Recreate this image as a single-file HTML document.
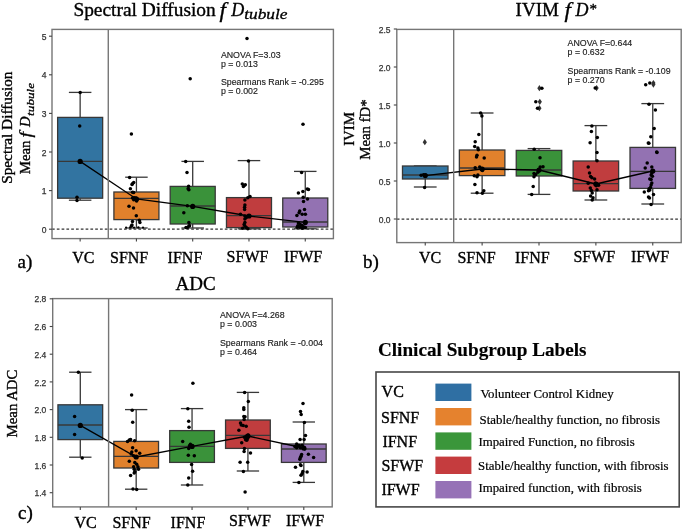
<!DOCTYPE html><html><head><meta charset="utf-8"><style>
*{margin:0;padding:0}
html,body{width:685px;height:530px;overflow:hidden;background:#fff}
svg{display:block;will-change:transform}
text{font-family:"Liberation Serif",serif;fill:#000;stroke:#000;stroke-width:0.35px}
.tk{font-family:"Liberation Sans",sans-serif;font-size:8.5px;fill:#333;stroke:#333;stroke-width:0.25px}
.an{font-family:"Liberation Sans",sans-serif;font-size:8.8px;fill:#222;stroke:#222;stroke-width:0.15px}
.ti{font-size:19px}
.it{font-style:italic;stroke-width:0.3px}
.sub{font-style:italic;font-size:13px}
.sub2{font-style:italic;font-size:11px}
.sup{font-size:13px}
.yl{font-size:14.8px}
.xl{font-size:16px}
.pl{font-size:19px}
.lt{font-size:19.2px;font-weight:bold;stroke-width:0.15px}
.ll{font-size:16px}
.ld{font-size:12.85px;stroke-width:0.2px}
</style></head><body><svg width="685" height="530" viewBox="0 0 685 530">
<rect width="685" height="530" fill="#fff"/>
<line x1="52.00" y1="229.20" x2="333.40" y2="229.20" stroke="#333" stroke-width="1.25" stroke-dasharray="2.7 2.1"/>
<line x1="80.14" y1="92.40" x2="80.14" y2="117.40" stroke="#383838" stroke-width="1.3"/>
<line x1="80.14" y1="198.20" x2="80.14" y2="200.20" stroke="#383838" stroke-width="1.3"/>
<line x1="68.88" y1="92.40" x2="91.40" y2="92.40" stroke="#383838" stroke-width="1.3"/>
<line x1="68.88" y1="200.20" x2="91.40" y2="200.20" stroke="#383838" stroke-width="1.3"/>
<rect x="57.63" y="117.40" width="45.02" height="80.80" fill="#3274a1" stroke="#383838" stroke-width="1.3"/>
<line x1="57.63" y1="161.40" x2="102.65" y2="161.40" stroke="#383838" stroke-width="1.3"/>
<line x1="136.42" y1="177.20" x2="136.42" y2="192.00" stroke="#383838" stroke-width="1.3"/>
<line x1="136.42" y1="219.60" x2="136.42" y2="228.00" stroke="#383838" stroke-width="1.3"/>
<line x1="125.16" y1="177.20" x2="147.68" y2="177.20" stroke="#383838" stroke-width="1.3"/>
<line x1="125.16" y1="228.00" x2="147.68" y2="228.00" stroke="#383838" stroke-width="1.3"/>
<rect x="113.91" y="192.00" width="45.02" height="27.60" fill="#e1812c" stroke="#383838" stroke-width="1.3"/>
<line x1="113.91" y1="198.40" x2="158.93" y2="198.40" stroke="#383838" stroke-width="1.3"/>
<line x1="192.70" y1="161.40" x2="192.70" y2="186.40" stroke="#383838" stroke-width="1.3"/>
<line x1="192.70" y1="224.00" x2="192.70" y2="228.00" stroke="#383838" stroke-width="1.3"/>
<line x1="181.44" y1="161.40" x2="203.96" y2="161.40" stroke="#383838" stroke-width="1.3"/>
<line x1="181.44" y1="228.00" x2="203.96" y2="228.00" stroke="#383838" stroke-width="1.3"/>
<rect x="170.19" y="186.40" width="45.02" height="37.60" fill="#3a923a" stroke="#383838" stroke-width="1.3"/>
<line x1="170.19" y1="206.00" x2="215.21" y2="206.00" stroke="#383838" stroke-width="1.3"/>
<line x1="248.98" y1="160.60" x2="248.98" y2="197.60" stroke="#383838" stroke-width="1.3"/>
<line x1="248.98" y1="227.60" x2="248.98" y2="228.80" stroke="#383838" stroke-width="1.3"/>
<line x1="237.72" y1="160.60" x2="260.24" y2="160.60" stroke="#383838" stroke-width="1.3"/>
<line x1="237.72" y1="228.80" x2="260.24" y2="228.80" stroke="#383838" stroke-width="1.3"/>
<rect x="226.47" y="197.60" width="45.02" height="30.00" fill="#c03d3e" stroke="#383838" stroke-width="1.3"/>
<line x1="226.47" y1="215.60" x2="271.49" y2="215.60" stroke="#383838" stroke-width="1.3"/>
<line x1="305.26" y1="171.40" x2="305.26" y2="198.00" stroke="#383838" stroke-width="1.3"/>
<line x1="305.26" y1="227.00" x2="305.26" y2="228.80" stroke="#383838" stroke-width="1.3"/>
<line x1="294.00" y1="171.40" x2="316.52" y2="171.40" stroke="#383838" stroke-width="1.3"/>
<line x1="294.00" y1="228.80" x2="316.52" y2="228.80" stroke="#383838" stroke-width="1.3"/>
<rect x="282.75" y="198.00" width="45.02" height="29.00" fill="#9372b2" stroke="#383838" stroke-width="1.3"/>
<line x1="282.75" y1="222.00" x2="327.77" y2="222.00" stroke="#383838" stroke-width="1.3"/>
<circle cx="80.20" cy="92.50" r="1.75" fill="#000"/>
<circle cx="79.70" cy="126.00" r="1.75" fill="#000"/>
<circle cx="77.00" cy="197.20" r="1.75" fill="#000"/>
<circle cx="77.00" cy="200.40" r="1.75" fill="#000"/>
<circle cx="131.40" cy="134.00" r="1.75" fill="#000"/>
<circle cx="129.60" cy="177.60" r="1.75" fill="#000"/>
<circle cx="132.50" cy="183.80" r="1.75" fill="#000"/>
<circle cx="133.70" cy="182.60" r="1.75" fill="#000"/>
<circle cx="132.00" cy="184.60" r="1.75" fill="#000"/>
<circle cx="130.40" cy="188.70" r="1.75" fill="#000"/>
<circle cx="132.50" cy="192.20" r="1.75" fill="#000"/>
<circle cx="133.70" cy="192.60" r="1.75" fill="#000"/>
<circle cx="132.50" cy="198.00" r="1.75" fill="#000"/>
<circle cx="134.30" cy="197.80" r="1.75" fill="#000"/>
<circle cx="136.00" cy="198.00" r="1.75" fill="#000"/>
<circle cx="137.20" cy="199.20" r="1.75" fill="#000"/>
<circle cx="133.70" cy="199.80" r="1.75" fill="#000"/>
<circle cx="136.60" cy="201.00" r="1.75" fill="#000"/>
<circle cx="129.00" cy="206.20" r="1.75" fill="#000"/>
<circle cx="133.50" cy="208.00" r="1.75" fill="#000"/>
<circle cx="136.30" cy="215.80" r="1.75" fill="#000"/>
<circle cx="139.30" cy="220.30" r="1.75" fill="#000"/>
<circle cx="132.50" cy="221.40" r="1.75" fill="#000"/>
<circle cx="139.90" cy="222.60" r="1.75" fill="#000"/>
<circle cx="132.00" cy="225.00" r="1.75" fill="#000"/>
<circle cx="131.40" cy="226.00" r="1.75" fill="#000"/>
<circle cx="126.10" cy="227.60" r="1.10" fill="#000"/>
<circle cx="130.20" cy="227.40" r="1.20" fill="#000"/>
<circle cx="134.00" cy="227.60" r="1.10" fill="#000"/>
<circle cx="138.40" cy="227.40" r="1.20" fill="#000"/>
<circle cx="143.00" cy="227.60" r="1.10" fill="#000"/>
<circle cx="190.20" cy="78.70" r="1.75" fill="#000"/>
<circle cx="185.70" cy="161.50" r="1.75" fill="#000"/>
<circle cx="187.00" cy="172.40" r="1.75" fill="#000"/>
<circle cx="188.60" cy="186.20" r="1.75" fill="#000"/>
<circle cx="188.90" cy="189.80" r="1.75" fill="#000"/>
<circle cx="188.10" cy="188.70" r="1.75" fill="#000"/>
<circle cx="187.40" cy="205.80" r="1.75" fill="#000"/>
<circle cx="183.80" cy="212.80" r="1.75" fill="#000"/>
<circle cx="188.90" cy="222.50" r="1.75" fill="#000"/>
<circle cx="188.90" cy="226.10" r="1.75" fill="#000"/>
<circle cx="187.40" cy="227.60" r="1.75" fill="#000"/>
<circle cx="189.60" cy="225.80" r="1.75" fill="#000"/>
<circle cx="186.00" cy="227.60" r="1.75" fill="#000"/>
<circle cx="247.00" cy="38.50" r="1.75" fill="#000"/>
<circle cx="248.50" cy="161.10" r="1.75" fill="#000"/>
<circle cx="242.30" cy="184.00" r="1.75" fill="#000"/>
<circle cx="244.10" cy="185.50" r="1.75" fill="#000"/>
<circle cx="243.40" cy="186.60" r="1.75" fill="#000"/>
<circle cx="245.30" cy="184.80" r="1.75" fill="#000"/>
<circle cx="250.00" cy="196.40" r="1.75" fill="#000"/>
<circle cx="247.80" cy="197.80" r="1.75" fill="#000"/>
<circle cx="244.90" cy="200.00" r="1.75" fill="#000"/>
<circle cx="244.90" cy="205.00" r="1.75" fill="#000"/>
<circle cx="244.60" cy="207.30" r="1.75" fill="#000"/>
<circle cx="244.60" cy="209.40" r="1.75" fill="#000"/>
<circle cx="240.50" cy="214.20" r="1.75" fill="#000"/>
<circle cx="249.20" cy="216.00" r="1.75" fill="#000"/>
<circle cx="244.90" cy="216.00" r="1.75" fill="#000"/>
<circle cx="246.30" cy="217.40" r="1.75" fill="#000"/>
<circle cx="244.90" cy="218.90" r="1.75" fill="#000"/>
<circle cx="244.90" cy="222.50" r="1.75" fill="#000"/>
<circle cx="244.10" cy="224.40" r="1.75" fill="#000"/>
<circle cx="244.90" cy="226.10" r="1.75" fill="#000"/>
<circle cx="246.30" cy="227.60" r="1.75" fill="#000"/>
<circle cx="242.70" cy="228.30" r="1.75" fill="#000"/>
<circle cx="247.80" cy="228.70" r="1.75" fill="#000"/>
<circle cx="303.00" cy="124.30" r="1.75" fill="#000"/>
<circle cx="301.60" cy="172.60" r="1.75" fill="#000"/>
<circle cx="307.30" cy="189.00" r="1.75" fill="#000"/>
<circle cx="308.50" cy="189.60" r="1.75" fill="#000"/>
<circle cx="302.90" cy="191.50" r="1.75" fill="#000"/>
<circle cx="298.40" cy="193.10" r="1.75" fill="#000"/>
<circle cx="303.20" cy="197.20" r="1.75" fill="#000"/>
<circle cx="307.50" cy="199.10" r="1.75" fill="#000"/>
<circle cx="303.50" cy="201.40" r="1.75" fill="#000"/>
<circle cx="304.50" cy="209.50" r="1.75" fill="#000"/>
<circle cx="299.70" cy="211.10" r="1.75" fill="#000"/>
<circle cx="299.10" cy="212.80" r="1.75" fill="#000"/>
<circle cx="302.20" cy="214.30" r="1.75" fill="#000"/>
<circle cx="305.40" cy="214.30" r="1.75" fill="#000"/>
<circle cx="296.90" cy="215.60" r="1.75" fill="#000"/>
<circle cx="298.40" cy="223.10" r="1.75" fill="#000"/>
<circle cx="300.30" cy="224.40" r="1.75" fill="#000"/>
<circle cx="302.20" cy="225.40" r="1.75" fill="#000"/>
<circle cx="297.80" cy="225.70" r="1.75" fill="#000"/>
<circle cx="304.10" cy="226.90" r="1.75" fill="#000"/>
<circle cx="299.70" cy="227.20" r="1.75" fill="#000"/>
<circle cx="297.20" cy="227.30" r="1.75" fill="#000"/>
<circle cx="302.20" cy="228.20" r="1.75" fill="#000"/>
<circle cx="305.40" cy="227.60" r="1.75" fill="#000"/>
<polyline points="80.14,161.40 136.42,199.00 192.70,206.40 248.98,216.00 305.26,222.40" fill="none" stroke="#000" stroke-width="1.3"/>
<circle cx="80.14" cy="161.40" r="2.6" fill="#000"/>
<circle cx="136.42" cy="199.00" r="2.6" fill="#000"/>
<circle cx="192.70" cy="206.40" r="2.6" fill="#000"/>
<circle cx="248.98" cy="216.00" r="2.6" fill="#000"/>
<circle cx="305.26" cy="222.40" r="2.6" fill="#000"/>
<line x1="108.28" y1="29.40" x2="108.28" y2="238.60" stroke="#767676" stroke-width="1.4"/>
<rect x="52.00" y="29.40" width="281.40" height="209.20" fill="none" stroke="#767676" stroke-width="1.4"/>
<line x1="49.00" y1="229.20" x2="52.00" y2="229.20" stroke="#444" stroke-width="1.1"/>
<text x="46.60" y="232.80" class="tk" text-anchor="end">0</text>
<line x1="49.00" y1="190.60" x2="52.00" y2="190.60" stroke="#444" stroke-width="1.1"/>
<text x="46.60" y="194.20" class="tk" text-anchor="end">1</text>
<line x1="49.00" y1="152.00" x2="52.00" y2="152.00" stroke="#444" stroke-width="1.1"/>
<text x="46.60" y="155.60" class="tk" text-anchor="end">2</text>
<line x1="49.00" y1="113.40" x2="52.00" y2="113.40" stroke="#444" stroke-width="1.1"/>
<text x="46.60" y="117.00" class="tk" text-anchor="end">3</text>
<line x1="49.00" y1="74.80" x2="52.00" y2="74.80" stroke="#444" stroke-width="1.1"/>
<text x="46.60" y="78.40" class="tk" text-anchor="end">4</text>
<line x1="49.00" y1="36.20" x2="52.00" y2="36.20" stroke="#444" stroke-width="1.1"/>
<text x="46.60" y="39.80" class="tk" text-anchor="end">5</text>
<line x1="80.14" y1="238.60" x2="80.14" y2="241.60" stroke="#444" stroke-width="1.1"/>
<line x1="136.42" y1="238.60" x2="136.42" y2="241.60" stroke="#444" stroke-width="1.1"/>
<line x1="192.70" y1="238.60" x2="192.70" y2="241.60" stroke="#444" stroke-width="1.1"/>
<line x1="248.98" y1="238.60" x2="248.98" y2="241.60" stroke="#444" stroke-width="1.1"/>
<line x1="305.26" y1="238.60" x2="305.26" y2="241.60" stroke="#444" stroke-width="1.1"/>
<line x1="396.80" y1="219.00" x2="681.20" y2="219.00" stroke="#333" stroke-width="1.25" stroke-dasharray="2.7 2.1"/>
<line x1="425.24" y1="166.00" x2="425.24" y2="166.00" stroke="#383838" stroke-width="1.3"/>
<line x1="425.24" y1="179.00" x2="425.24" y2="187.00" stroke="#383838" stroke-width="1.3"/>
<line x1="413.86" y1="166.00" x2="436.62" y2="166.00" stroke="#383838" stroke-width="1.3"/>
<line x1="413.86" y1="187.00" x2="436.62" y2="187.00" stroke="#383838" stroke-width="1.3"/>
<rect x="402.49" y="166.00" width="45.50" height="13.00" fill="#3274a1" stroke="#383838" stroke-width="1.3"/>
<line x1="402.49" y1="175.00" x2="447.99" y2="175.00" stroke="#383838" stroke-width="1.3"/>
<line x1="482.12" y1="113.00" x2="482.12" y2="150.00" stroke="#383838" stroke-width="1.3"/>
<line x1="482.12" y1="175.60" x2="482.12" y2="193.20" stroke="#383838" stroke-width="1.3"/>
<line x1="470.74" y1="113.00" x2="493.50" y2="113.00" stroke="#383838" stroke-width="1.3"/>
<line x1="470.74" y1="193.20" x2="493.50" y2="193.20" stroke="#383838" stroke-width="1.3"/>
<rect x="459.37" y="150.00" width="45.50" height="25.60" fill="#e1812c" stroke="#383838" stroke-width="1.3"/>
<line x1="459.37" y1="168.00" x2="504.87" y2="168.00" stroke="#383838" stroke-width="1.3"/>
<line x1="539.00" y1="148.60" x2="539.00" y2="150.40" stroke="#383838" stroke-width="1.3"/>
<line x1="539.00" y1="176.00" x2="539.00" y2="194.40" stroke="#383838" stroke-width="1.3"/>
<line x1="527.62" y1="148.60" x2="550.38" y2="148.60" stroke="#383838" stroke-width="1.3"/>
<line x1="527.62" y1="194.40" x2="550.38" y2="194.40" stroke="#383838" stroke-width="1.3"/>
<rect x="516.25" y="150.40" width="45.50" height="25.60" fill="#3a923a" stroke="#383838" stroke-width="1.3"/>
<line x1="516.25" y1="170.00" x2="561.75" y2="170.00" stroke="#383838" stroke-width="1.3"/>
<line x1="595.88" y1="125.60" x2="595.88" y2="161.00" stroke="#383838" stroke-width="1.3"/>
<line x1="595.88" y1="191.00" x2="595.88" y2="200.00" stroke="#383838" stroke-width="1.3"/>
<line x1="584.50" y1="125.60" x2="607.26" y2="125.60" stroke="#383838" stroke-width="1.3"/>
<line x1="584.50" y1="200.00" x2="607.26" y2="200.00" stroke="#383838" stroke-width="1.3"/>
<rect x="573.13" y="161.00" width="45.50" height="30.00" fill="#c03d3e" stroke="#383838" stroke-width="1.3"/>
<line x1="573.13" y1="183.60" x2="618.63" y2="183.60" stroke="#383838" stroke-width="1.3"/>
<line x1="652.76" y1="103.60" x2="652.76" y2="147.40" stroke="#383838" stroke-width="1.3"/>
<line x1="652.76" y1="188.40" x2="652.76" y2="204.00" stroke="#383838" stroke-width="1.3"/>
<line x1="641.38" y1="103.60" x2="664.14" y2="103.60" stroke="#383838" stroke-width="1.3"/>
<line x1="641.38" y1="204.00" x2="664.14" y2="204.00" stroke="#383838" stroke-width="1.3"/>
<rect x="630.01" y="147.40" width="45.50" height="41.00" fill="#9372b2" stroke="#383838" stroke-width="1.3"/>
<line x1="630.01" y1="171.40" x2="675.51" y2="171.40" stroke="#383838" stroke-width="1.3"/>
<path d="M424.80 139.10L426.90 142.20L424.80 145.30L422.70 142.20Z" fill="#333"/>
<path d="M539.40 85.10L541.50 88.20L539.40 91.30L537.30 88.20Z" fill="#333"/>
<path d="M539.80 98.70L541.90 101.80L539.80 104.90L537.70 101.80Z" fill="#333"/>
<path d="M539.40 105.10L541.50 108.20L539.40 111.30L537.30 108.20Z" fill="#333"/>
<path d="M596.60 85.00L598.70 88.10L596.60 91.20L594.50 88.10Z" fill="#333"/>
<path d="M653.40 79.90L655.50 83.00L653.40 86.10L651.30 83.00Z" fill="#333"/>
<path d="M653.40 81.50L655.50 84.60L653.40 87.70L651.30 84.60Z" fill="#333"/>
<circle cx="421.10" cy="175.30" r="1.75" fill="#000"/>
<circle cx="423.50" cy="174.70" r="1.75" fill="#000"/>
<circle cx="425.80" cy="175.30" r="1.75" fill="#000"/>
<circle cx="424.60" cy="187.40" r="1.75" fill="#000"/>
<circle cx="480.60" cy="113.10" r="1.75" fill="#000"/>
<circle cx="481.90" cy="116.10" r="1.75" fill="#000"/>
<circle cx="478.80" cy="134.60" r="1.75" fill="#000"/>
<circle cx="475.20" cy="141.80" r="1.75" fill="#000"/>
<circle cx="474.70" cy="146.60" r="1.75" fill="#000"/>
<circle cx="477.90" cy="148.00" r="1.75" fill="#000"/>
<circle cx="478.30" cy="149.80" r="1.75" fill="#000"/>
<circle cx="477.00" cy="155.20" r="1.75" fill="#000"/>
<circle cx="476.50" cy="157.00" r="1.75" fill="#000"/>
<circle cx="484.20" cy="157.90" r="1.75" fill="#000"/>
<circle cx="475.20" cy="167.70" r="1.75" fill="#000"/>
<circle cx="479.70" cy="166.90" r="1.75" fill="#000"/>
<circle cx="482.40" cy="170.40" r="1.75" fill="#000"/>
<circle cx="474.30" cy="175.80" r="1.75" fill="#000"/>
<circle cx="477.00" cy="176.70" r="1.75" fill="#000"/>
<circle cx="477.90" cy="174.90" r="1.75" fill="#000"/>
<circle cx="474.90" cy="184.40" r="1.75" fill="#000"/>
<circle cx="477.00" cy="192.80" r="1.75" fill="#000"/>
<circle cx="482.40" cy="193.20" r="1.75" fill="#000"/>
<circle cx="483.80" cy="190.70" r="1.75" fill="#000"/>
<circle cx="541.90" cy="88.20" r="1.75" fill="#000"/>
<circle cx="535.80" cy="101.80" r="1.75" fill="#000"/>
<circle cx="537.50" cy="108.20" r="1.75" fill="#000"/>
<circle cx="534.20" cy="149.30" r="1.75" fill="#000"/>
<circle cx="540.00" cy="157.80" r="1.75" fill="#000"/>
<circle cx="543.00" cy="166.80" r="1.75" fill="#000"/>
<circle cx="540.20" cy="167.10" r="1.75" fill="#000"/>
<circle cx="539.00" cy="169.40" r="1.75" fill="#000"/>
<circle cx="537.90" cy="172.20" r="1.75" fill="#000"/>
<circle cx="534.00" cy="173.40" r="1.75" fill="#000"/>
<circle cx="535.70" cy="174.50" r="1.75" fill="#000"/>
<circle cx="534.00" cy="176.70" r="1.75" fill="#000"/>
<circle cx="533.20" cy="186.60" r="1.75" fill="#000"/>
<circle cx="531.70" cy="194.50" r="1.75" fill="#000"/>
<circle cx="595.20" cy="88.10" r="1.75" fill="#000"/>
<circle cx="591.90" cy="126.10" r="1.75" fill="#000"/>
<circle cx="591.40" cy="131.50" r="1.75" fill="#000"/>
<circle cx="597.30" cy="137.60" r="1.75" fill="#000"/>
<circle cx="590.10" cy="142.70" r="1.75" fill="#000"/>
<circle cx="597.00" cy="152.50" r="1.75" fill="#000"/>
<circle cx="597.00" cy="160.80" r="1.75" fill="#000"/>
<circle cx="588.20" cy="166.90" r="1.75" fill="#000"/>
<circle cx="589.50" cy="172.90" r="1.75" fill="#000"/>
<circle cx="590.60" cy="176.40" r="1.75" fill="#000"/>
<circle cx="591.90" cy="177.70" r="1.75" fill="#000"/>
<circle cx="594.60" cy="178.90" r="1.75" fill="#000"/>
<circle cx="588.20" cy="183.30" r="1.75" fill="#000"/>
<circle cx="595.40" cy="183.30" r="1.75" fill="#000"/>
<circle cx="597.00" cy="184.10" r="1.75" fill="#000"/>
<circle cx="598.60" cy="185.30" r="1.75" fill="#000"/>
<circle cx="596.20" cy="185.70" r="1.75" fill="#000"/>
<circle cx="590.30" cy="188.10" r="1.75" fill="#000"/>
<circle cx="591.40" cy="190.50" r="1.75" fill="#000"/>
<circle cx="597.00" cy="189.70" r="1.75" fill="#000"/>
<circle cx="592.20" cy="192.90" r="1.75" fill="#000"/>
<circle cx="590.60" cy="196.10" r="1.75" fill="#000"/>
<circle cx="593.00" cy="197.70" r="1.75" fill="#000"/>
<circle cx="592.20" cy="200.10" r="1.75" fill="#000"/>
<circle cx="645.70" cy="84.70" r="1.75" fill="#000"/>
<circle cx="649.80" cy="82.90" r="1.75" fill="#000"/>
<circle cx="649.00" cy="104.20" r="1.75" fill="#000"/>
<circle cx="655.40" cy="110.10" r="1.75" fill="#000"/>
<circle cx="654.20" cy="128.40" r="1.75" fill="#000"/>
<circle cx="650.80" cy="136.80" r="1.75" fill="#000"/>
<circle cx="648.30" cy="143.10" r="1.75" fill="#000"/>
<circle cx="656.70" cy="152.00" r="1.75" fill="#000"/>
<circle cx="648.90" cy="143.30" r="1.75" fill="#000"/>
<circle cx="657.00" cy="152.50" r="1.75" fill="#000"/>
<circle cx="647.20" cy="163.10" r="1.75" fill="#000"/>
<circle cx="645.20" cy="168.00" r="1.75" fill="#000"/>
<circle cx="651.80" cy="167.10" r="1.75" fill="#000"/>
<circle cx="653.10" cy="171.00" r="1.75" fill="#000"/>
<circle cx="651.80" cy="173.00" r="1.75" fill="#000"/>
<circle cx="651.10" cy="175.00" r="1.75" fill="#000"/>
<circle cx="652.40" cy="176.30" r="1.75" fill="#000"/>
<circle cx="649.80" cy="178.90" r="1.75" fill="#000"/>
<circle cx="651.10" cy="179.60" r="1.75" fill="#000"/>
<circle cx="651.80" cy="182.90" r="1.75" fill="#000"/>
<circle cx="651.10" cy="184.90" r="1.75" fill="#000"/>
<circle cx="650.50" cy="187.50" r="1.75" fill="#000"/>
<circle cx="649.10" cy="188.80" r="1.75" fill="#000"/>
<circle cx="649.80" cy="190.10" r="1.75" fill="#000"/>
<circle cx="648.50" cy="190.80" r="1.75" fill="#000"/>
<circle cx="644.30" cy="192.10" r="1.75" fill="#000"/>
<circle cx="653.50" cy="194.40" r="1.75" fill="#000"/>
<circle cx="648.50" cy="197.00" r="1.75" fill="#000"/>
<circle cx="649.50" cy="198.10" r="1.75" fill="#000"/>
<circle cx="651.10" cy="204.40" r="1.75" fill="#000"/>
<polyline points="425.24,175.60 482.12,169.00 539.00,170.00 595.88,184.00 652.76,171.00" fill="none" stroke="#000" stroke-width="1.3"/>
<circle cx="425.24" cy="175.60" r="2.6" fill="#000"/>
<circle cx="482.12" cy="169.00" r="2.6" fill="#000"/>
<circle cx="539.00" cy="170.00" r="2.6" fill="#000"/>
<circle cx="595.88" cy="184.00" r="2.6" fill="#000"/>
<circle cx="652.76" cy="171.00" r="2.6" fill="#000"/>
<line x1="453.68" y1="29.40" x2="453.68" y2="242.60" stroke="#767676" stroke-width="1.4"/>
<rect x="396.80" y="29.40" width="284.40" height="213.20" fill="none" stroke="#767676" stroke-width="1.4"/>
<line x1="393.80" y1="219.00" x2="396.80" y2="219.00" stroke="#444" stroke-width="1.1"/>
<text x="390.50" y="222.60" class="tk" text-anchor="end">0.0</text>
<line x1="393.80" y1="181.00" x2="396.80" y2="181.00" stroke="#444" stroke-width="1.1"/>
<text x="390.50" y="184.60" class="tk" text-anchor="end">0.5</text>
<line x1="393.80" y1="143.00" x2="396.80" y2="143.00" stroke="#444" stroke-width="1.1"/>
<text x="390.50" y="146.60" class="tk" text-anchor="end">1.0</text>
<line x1="393.80" y1="105.00" x2="396.80" y2="105.00" stroke="#444" stroke-width="1.1"/>
<text x="390.50" y="108.60" class="tk" text-anchor="end">1.5</text>
<line x1="393.80" y1="67.00" x2="396.80" y2="67.00" stroke="#444" stroke-width="1.1"/>
<text x="390.50" y="70.60" class="tk" text-anchor="end">2.0</text>
<line x1="393.80" y1="29.00" x2="396.80" y2="29.00" stroke="#444" stroke-width="1.1"/>
<text x="390.50" y="32.60" class="tk" text-anchor="end">2.5</text>
<line x1="425.24" y1="242.60" x2="425.24" y2="245.60" stroke="#444" stroke-width="1.1"/>
<line x1="482.12" y1="242.60" x2="482.12" y2="245.60" stroke="#444" stroke-width="1.1"/>
<line x1="539.00" y1="242.60" x2="539.00" y2="245.60" stroke="#444" stroke-width="1.1"/>
<line x1="595.88" y1="242.60" x2="595.88" y2="245.60" stroke="#444" stroke-width="1.1"/>
<line x1="652.76" y1="242.60" x2="652.76" y2="245.60" stroke="#444" stroke-width="1.1"/>
<line x1="80.30" y1="372.20" x2="80.30" y2="404.80" stroke="#383838" stroke-width="1.3"/>
<line x1="80.30" y1="439.60" x2="80.30" y2="457.20" stroke="#383838" stroke-width="1.3"/>
<line x1="69.12" y1="372.20" x2="91.48" y2="372.20" stroke="#383838" stroke-width="1.3"/>
<line x1="69.12" y1="457.20" x2="91.48" y2="457.20" stroke="#383838" stroke-width="1.3"/>
<rect x="57.94" y="404.80" width="44.72" height="34.80" fill="#3274a1" stroke="#383838" stroke-width="1.3"/>
<line x1="57.94" y1="425.00" x2="102.66" y2="425.00" stroke="#383838" stroke-width="1.3"/>
<line x1="136.18" y1="409.60" x2="136.18" y2="441.40" stroke="#383838" stroke-width="1.3"/>
<line x1="136.18" y1="468.00" x2="136.18" y2="489.20" stroke="#383838" stroke-width="1.3"/>
<line x1="125.00" y1="409.60" x2="147.36" y2="409.60" stroke="#383838" stroke-width="1.3"/>
<line x1="125.00" y1="489.20" x2="147.36" y2="489.20" stroke="#383838" stroke-width="1.3"/>
<rect x="113.82" y="441.40" width="44.72" height="26.60" fill="#e1812c" stroke="#383838" stroke-width="1.3"/>
<line x1="113.82" y1="456.40" x2="158.54" y2="456.40" stroke="#383838" stroke-width="1.3"/>
<line x1="192.05" y1="408.60" x2="192.05" y2="430.60" stroke="#383838" stroke-width="1.3"/>
<line x1="192.05" y1="462.40" x2="192.05" y2="485.00" stroke="#383838" stroke-width="1.3"/>
<line x1="180.87" y1="408.60" x2="203.23" y2="408.60" stroke="#383838" stroke-width="1.3"/>
<line x1="180.87" y1="485.00" x2="203.23" y2="485.00" stroke="#383838" stroke-width="1.3"/>
<rect x="169.69" y="430.60" width="44.72" height="31.80" fill="#3a923a" stroke="#383838" stroke-width="1.3"/>
<line x1="169.69" y1="446.40" x2="214.41" y2="446.40" stroke="#383838" stroke-width="1.3"/>
<line x1="247.93" y1="392.40" x2="247.93" y2="420.00" stroke="#383838" stroke-width="1.3"/>
<line x1="247.93" y1="448.40" x2="247.93" y2="471.00" stroke="#383838" stroke-width="1.3"/>
<line x1="236.75" y1="392.40" x2="259.11" y2="392.40" stroke="#383838" stroke-width="1.3"/>
<line x1="236.75" y1="471.00" x2="259.11" y2="471.00" stroke="#383838" stroke-width="1.3"/>
<rect x="225.56" y="420.00" width="44.72" height="28.40" fill="#c03d3e" stroke="#383838" stroke-width="1.3"/>
<line x1="225.56" y1="435.40" x2="270.29" y2="435.40" stroke="#383838" stroke-width="1.3"/>
<line x1="303.80" y1="422.00" x2="303.80" y2="444.00" stroke="#383838" stroke-width="1.3"/>
<line x1="303.80" y1="462.40" x2="303.80" y2="482.40" stroke="#383838" stroke-width="1.3"/>
<line x1="292.62" y1="422.00" x2="314.98" y2="422.00" stroke="#383838" stroke-width="1.3"/>
<line x1="292.62" y1="482.40" x2="314.98" y2="482.40" stroke="#383838" stroke-width="1.3"/>
<rect x="281.44" y="444.00" width="44.72" height="18.40" fill="#9372b2" stroke="#383838" stroke-width="1.3"/>
<line x1="281.44" y1="449.00" x2="326.16" y2="449.00" stroke="#383838" stroke-width="1.3"/>
<circle cx="78.40" cy="372.20" r="1.75" fill="#000"/>
<circle cx="74.60" cy="416.40" r="1.75" fill="#000"/>
<circle cx="74.60" cy="434.60" r="1.75" fill="#000"/>
<circle cx="82.20" cy="458.00" r="1.75" fill="#000"/>
<circle cx="131.60" cy="395.00" r="1.75" fill="#000"/>
<circle cx="132.20" cy="410.30" r="1.75" fill="#000"/>
<circle cx="132.70" cy="422.30" r="1.75" fill="#000"/>
<circle cx="127.50" cy="441.60" r="1.75" fill="#000"/>
<circle cx="129.30" cy="440.10" r="1.75" fill="#000"/>
<circle cx="130.60" cy="439.60" r="1.75" fill="#000"/>
<circle cx="134.60" cy="440.80" r="1.75" fill="#000"/>
<circle cx="132.60" cy="447.80" r="1.75" fill="#000"/>
<circle cx="136.10" cy="450.80" r="1.75" fill="#000"/>
<circle cx="139.70" cy="453.30" r="1.75" fill="#000"/>
<circle cx="131.80" cy="452.10" r="1.75" fill="#000"/>
<circle cx="131.20" cy="453.90" r="1.75" fill="#000"/>
<circle cx="133.60" cy="455.70" r="1.75" fill="#000"/>
<circle cx="135.50" cy="457.00" r="1.75" fill="#000"/>
<circle cx="129.30" cy="461.30" r="1.75" fill="#000"/>
<circle cx="134.80" cy="462.50" r="1.75" fill="#000"/>
<circle cx="136.70" cy="464.30" r="1.75" fill="#000"/>
<circle cx="137.90" cy="466.80" r="1.75" fill="#000"/>
<circle cx="138.50" cy="469.20" r="1.75" fill="#000"/>
<circle cx="133.60" cy="466.80" r="1.75" fill="#000"/>
<circle cx="134.20" cy="469.20" r="1.75" fill="#000"/>
<circle cx="134.80" cy="471.70" r="1.75" fill="#000"/>
<circle cx="134.20" cy="472.90" r="1.75" fill="#000"/>
<circle cx="130.60" cy="475.40" r="1.75" fill="#000"/>
<circle cx="133.00" cy="489.10" r="1.75" fill="#000"/>
<circle cx="136.70" cy="489.50" r="1.75" fill="#000"/>
<circle cx="192.90" cy="383.20" r="1.75" fill="#000"/>
<circle cx="187.80" cy="408.80" r="1.75" fill="#000"/>
<circle cx="188.70" cy="421.20" r="1.75" fill="#000"/>
<circle cx="189.00" cy="427.20" r="1.75" fill="#000"/>
<circle cx="182.70" cy="441.60" r="1.75" fill="#000"/>
<circle cx="190.40" cy="444.20" r="1.75" fill="#000"/>
<circle cx="189.50" cy="445.80" r="1.75" fill="#000"/>
<circle cx="192.10" cy="445.80" r="1.75" fill="#000"/>
<circle cx="188.70" cy="448.40" r="1.75" fill="#000"/>
<circle cx="188.30" cy="455.20" r="1.75" fill="#000"/>
<circle cx="194.30" cy="455.70" r="1.75" fill="#000"/>
<circle cx="191.60" cy="464.50" r="1.75" fill="#000"/>
<circle cx="192.60" cy="471.30" r="1.75" fill="#000"/>
<circle cx="188.70" cy="478.10" r="1.75" fill="#000"/>
<circle cx="187.80" cy="484.90" r="1.75" fill="#000"/>
<circle cx="244.60" cy="392.50" r="1.75" fill="#000"/>
<circle cx="248.30" cy="401.60" r="1.75" fill="#000"/>
<circle cx="243.80" cy="407.80" r="1.75" fill="#000"/>
<circle cx="243.80" cy="409.60" r="1.75" fill="#000"/>
<circle cx="243.80" cy="416.40" r="1.75" fill="#000"/>
<circle cx="245.00" cy="416.70" r="1.75" fill="#000"/>
<circle cx="244.10" cy="419.40" r="1.75" fill="#000"/>
<circle cx="240.50" cy="423.10" r="1.75" fill="#000"/>
<circle cx="241.30" cy="424.90" r="1.75" fill="#000"/>
<circle cx="243.20" cy="425.60" r="1.75" fill="#000"/>
<circle cx="246.20" cy="426.20" r="1.75" fill="#000"/>
<circle cx="238.90" cy="430.20" r="1.75" fill="#000"/>
<circle cx="248.10" cy="435.10" r="1.75" fill="#000"/>
<circle cx="246.20" cy="436.30" r="1.75" fill="#000"/>
<circle cx="244.40" cy="437.20" r="1.75" fill="#000"/>
<circle cx="247.50" cy="438.40" r="1.75" fill="#000"/>
<circle cx="245.60" cy="439.70" r="1.75" fill="#000"/>
<circle cx="246.80" cy="440.30" r="1.75" fill="#000"/>
<circle cx="241.70" cy="442.70" r="1.75" fill="#000"/>
<circle cx="244.40" cy="448.60" r="1.75" fill="#000"/>
<circle cx="244.10" cy="451.50" r="1.75" fill="#000"/>
<circle cx="250.50" cy="453.10" r="1.75" fill="#000"/>
<circle cx="240.10" cy="462.20" r="1.75" fill="#000"/>
<circle cx="247.70" cy="462.20" r="1.75" fill="#000"/>
<circle cx="243.40" cy="471.50" r="1.75" fill="#000"/>
<circle cx="245.10" cy="492.00" r="1.75" fill="#000"/>
<circle cx="303.00" cy="403.40" r="1.75" fill="#000"/>
<circle cx="300.50" cy="411.50" r="1.75" fill="#000"/>
<circle cx="301.20" cy="414.40" r="1.75" fill="#000"/>
<circle cx="304.40" cy="422.40" r="1.75" fill="#000"/>
<circle cx="305.50" cy="435.40" r="1.75" fill="#000"/>
<circle cx="300.10" cy="439.50" r="1.75" fill="#000"/>
<circle cx="304.10" cy="439.50" r="1.75" fill="#000"/>
<circle cx="296.70" cy="444.00" r="1.75" fill="#000"/>
<circle cx="294.90" cy="446.50" r="1.75" fill="#000"/>
<circle cx="297.30" cy="446.50" r="1.75" fill="#000"/>
<circle cx="299.20" cy="445.60" r="1.75" fill="#000"/>
<circle cx="302.20" cy="445.20" r="1.75" fill="#000"/>
<circle cx="303.50" cy="447.70" r="1.75" fill="#000"/>
<circle cx="304.70" cy="448.90" r="1.75" fill="#000"/>
<circle cx="300.40" cy="447.70" r="1.75" fill="#000"/>
<circle cx="296.70" cy="447.70" r="1.75" fill="#000"/>
<circle cx="308.40" cy="454.20" r="1.75" fill="#000"/>
<circle cx="313.60" cy="457.50" r="1.75" fill="#000"/>
<circle cx="301.60" cy="454.40" r="1.75" fill="#000"/>
<circle cx="301.00" cy="456.30" r="1.75" fill="#000"/>
<circle cx="300.40" cy="457.50" r="1.75" fill="#000"/>
<circle cx="299.80" cy="459.30" r="1.75" fill="#000"/>
<circle cx="300.40" cy="464.80" r="1.75" fill="#000"/>
<circle cx="301.00" cy="465.50" r="1.75" fill="#000"/>
<circle cx="295.50" cy="467.30" r="1.75" fill="#000"/>
<circle cx="302.80" cy="471.60" r="1.75" fill="#000"/>
<circle cx="307.10" cy="471.90" r="1.75" fill="#000"/>
<circle cx="302.20" cy="473.40" r="1.75" fill="#000"/>
<circle cx="301.00" cy="475.30" r="1.75" fill="#000"/>
<circle cx="298.90" cy="482.60" r="1.75" fill="#000"/>
<polyline points="80.30,425.40 136.18,457.00 192.05,446.40 247.93,436.00 303.80,448.00" fill="none" stroke="#000" stroke-width="1.3"/>
<circle cx="80.30" cy="425.40" r="2.6" fill="#000"/>
<circle cx="136.18" cy="457.00" r="2.6" fill="#000"/>
<circle cx="192.05" cy="446.40" r="2.6" fill="#000"/>
<circle cx="247.93" cy="436.00" r="2.6" fill="#000"/>
<circle cx="303.80" cy="448.00" r="2.6" fill="#000"/>
<line x1="108.60" y1="298.60" x2="108.60" y2="506.90" stroke="#767676" stroke-width="1.4"/>
<rect x="52.70" y="298.60" width="279.50" height="208.30" fill="none" stroke="#767676" stroke-width="1.4"/>
<line x1="49.70" y1="492.70" x2="52.70" y2="492.70" stroke="#444" stroke-width="1.1"/>
<text x="46.30" y="496.30" class="tk" text-anchor="end">1.4</text>
<line x1="49.70" y1="465.00" x2="52.70" y2="465.00" stroke="#444" stroke-width="1.1"/>
<text x="46.30" y="468.60" class="tk" text-anchor="end">1.6</text>
<line x1="49.70" y1="437.30" x2="52.70" y2="437.30" stroke="#444" stroke-width="1.1"/>
<text x="46.30" y="440.90" class="tk" text-anchor="end">1.8</text>
<line x1="49.70" y1="409.60" x2="52.70" y2="409.60" stroke="#444" stroke-width="1.1"/>
<text x="46.30" y="413.20" class="tk" text-anchor="end">2.0</text>
<line x1="49.70" y1="381.90" x2="52.70" y2="381.90" stroke="#444" stroke-width="1.1"/>
<text x="46.30" y="385.50" class="tk" text-anchor="end">2.2</text>
<line x1="49.70" y1="354.20" x2="52.70" y2="354.20" stroke="#444" stroke-width="1.1"/>
<text x="46.30" y="357.80" class="tk" text-anchor="end">2.4</text>
<line x1="49.70" y1="326.50" x2="52.70" y2="326.50" stroke="#444" stroke-width="1.1"/>
<text x="46.30" y="330.10" class="tk" text-anchor="end">2.6</text>
<line x1="49.70" y1="298.80" x2="52.70" y2="298.80" stroke="#444" stroke-width="1.1"/>
<text x="46.30" y="302.40" class="tk" text-anchor="end">2.8</text>
<line x1="80.30" y1="506.90" x2="80.30" y2="509.90" stroke="#444" stroke-width="1.1"/>
<line x1="136.18" y1="506.90" x2="136.18" y2="509.90" stroke="#444" stroke-width="1.1"/>
<line x1="192.05" y1="506.90" x2="192.05" y2="509.90" stroke="#444" stroke-width="1.1"/>
<line x1="247.93" y1="506.90" x2="247.93" y2="509.90" stroke="#444" stroke-width="1.1"/>
<line x1="303.80" y1="506.90" x2="303.80" y2="509.90" stroke="#444" stroke-width="1.1"/>
<text x="220.90" y="57.90" class="an" >ANOVA F=3.03</text>
<text x="220.90" y="66.60" class="an" >p = 0.013</text>
<text x="220.90" y="85.40" class="an" >Spearmans Rank = -0.295</text>
<text x="220.90" y="94.30" class="an" >p = 0.002</text>
<text x="567.60" y="45.90" class="an" >ANOVA F=0.644</text>
<text x="567.60" y="55.10" class="an" >p = 0.632</text>
<text x="567.60" y="74.00" class="an" >Spearmans Rank = -0.109</text>
<text x="567.60" y="83.20" class="an" >p = 0.270</text>
<text x="220.00" y="317.60" class="an" >ANOVA F=4.268</text>
<text x="220.00" y="327.20" class="an" >p = 0.003</text>
<text x="220.00" y="345.50" class="an" >Spearmans Rank = -0.004</text>
<text x="220.00" y="354.60" class="an" >p = 0.464</text>
<text x="73.4" y="16.4" class="ti" style="font-size:19.4px">Spectral Diffusion</text>
<text transform="translate(219.4,16.8) scale(1.15,1)" class="ti it" style="font-size:20px">f</text>
<text x="231.2" y="16.4" class="ti it" style="font-size:18px">D</text>
<text x="244.2" y="19.3" class="ti it" style="font-size:15px" textLength="43.4" lengthAdjust="spacingAndGlyphs">tubule</text>
<text x="515.6" y="16.4" class="ti">IVIM</text>
<text transform="translate(564.4,16.8) scale(1.15,1)" class="ti it" style="font-size:20px">f</text>
<text x="575.6" y="16.4" class="ti it" style="font-size:18px">D</text>
<text x="589.4" y="13.6" class="ti" style="font-size:15px">*</text>
<text x="175.6" y="290.4" class="ti">ADC</text>
<text transform="translate(12.3,127.7) rotate(-90)" class="yl" text-anchor="middle" style="font-size:15.3px">Spectral Diffusion</text>
<g transform="translate(30.1,0) rotate(-90)">
<text x="-174.2" y="0" class="yl">Mean</text>
<text transform="translate(-137.6,0.4) scale(1.25,1)" class="yl it" style="font-size:16px">f</text>
<text x="-127.0" y="0" class="yl it" style="font-size:14.5px">D</text>
<text x="-115.9" y="3.6" class="yl it" style="font-size:10.5px" textLength="33" lengthAdjust="spacingAndGlyphs">tubule</text>
</g>
<text transform="translate(353.6,129) rotate(-90)" class="yl" text-anchor="middle">IVIM</text>
<text transform="translate(369.6,129.5) rotate(-90)" class="yl" text-anchor="middle">Mean fD<tspan dy="1.5">*</tspan></text>
<text transform="translate(17.3,403.5) rotate(-90)" class="yl" text-anchor="middle">Mean ADC</text>
<text x="72.20" y="263.40" class="xl" >VC</text>
<text x="110.00" y="263.40" class="xl" >SFNF</text>
<text x="167.60" y="263.40" class="xl" >IFNF</text>
<text x="226.60" y="262.00" class="xl" >SFWF</text>
<text x="284.00" y="262.00" class="xl" >IFWF</text>
<text x="419.00" y="263.40" class="xl" >VC</text>
<text x="457.40" y="263.00" class="xl" >SFNF</text>
<text x="515.00" y="263.00" class="xl" >IFNF</text>
<text x="573.40" y="261.60" class="xl" >SFWF</text>
<text x="631.00" y="261.60" class="xl" >IFWF</text>
<text x="74.40" y="528.00" class="xl" >VC</text>
<text x="112.40" y="528.00" class="xl" >SFNF</text>
<text x="170.60" y="528.00" class="xl" >IFNF</text>
<text x="229.00" y="526.40" class="xl" >SFWF</text>
<text x="286.00" y="526.40" class="xl" >IFWF</text>
<text x="17.60" y="268.00" class="pl" >a)</text>
<text x="363.00" y="268.00" class="pl" >b)</text>
<text x="18.00" y="519.00" class="pl" >c)</text>
<text x="377.90" y="355.70" class="lt" >Clinical Subgroup Labels</text>
<rect x="376.0" y="372.0" width="303.2" height="134.9" fill="none" stroke="#484848" stroke-width="1.6"/>
<text x="381.60" y="397.40" class="ll" >VC</text>
<rect x="435.4" y="383.60" width="36" height="17.4" fill="#2f6fa3"/>
<text x="480.50" y="398.40" class="ld" >Volunteer Control Kidney</text>
<text x="381.00" y="423.00" class="ll" >SFNF</text>
<rect x="435.4" y="408.00" width="36" height="17.4" fill="#e5822e"/>
<text x="479.60" y="423.50" class="ld" >Stable/healthy function, no fibrosis</text>
<text x="382.40" y="447.00" class="ll" >IFNF</text>
<rect x="435.4" y="432.40" width="36" height="17.4" fill="#3a963a"/>
<text x="478.40" y="446.00" class="ld" >Impaired Function, no fibrosis</text>
<text x="381.40" y="471.00" class="ll" >SFWF</text>
<rect x="435.4" y="456.60" width="36" height="17.4" fill="#c53c3e"/>
<text x="478.00" y="470.00" class="ld" >Stable/healthy function, with fibrosis</text>
<text x="381.40" y="495.00" class="ll" >IFWF</text>
<rect x="435.4" y="481.00" width="36" height="17.4" fill="#9672b6"/>
<text x="478.40" y="492.40" class="ld" >Impaired function, with fibrosis</text>
</svg></body></html>
